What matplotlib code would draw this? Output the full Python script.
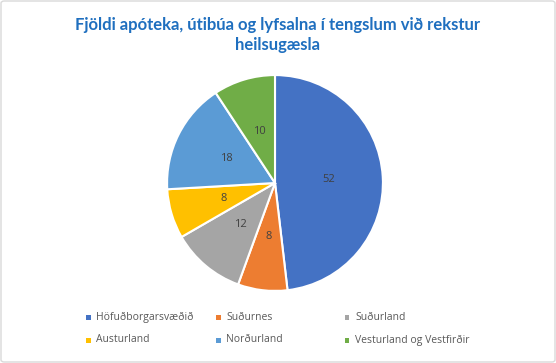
import matplotlib.pyplot as plt
from matplotlib.patches import FancyBboxPatch

categories = ["Höfuðborgarsvæðið", "Suðurnes", "Suðurland",
              "Austurland", "Norðurland", "Vesturland og Vestfirðir"]
values = [52, 8, 12, 8, 18, 10]
colors = ["#4472C4", "#ED7D31", "#A5A5A5", "#FFC000", "#5B9BD5", "#70AD47"]

W, H = 556, 363
fig = plt.figure(figsize=(W / 100, H / 100), dpi=100)

# light rounded border around the chart area
border = FancyBboxPatch((1 / W, 1 / H), 1 - 2 / W, 1 - 2 / H,
                        boxstyle="round,pad=0,rounding_size=0.006",
                        transform=fig.transFigure, facecolor="none",
                        edgecolor="#D9D9D9", linewidth=1, zorder=-1)
fig.patches.append(border)

fig.text(0.5, 1 - 35 / H, "Fjöldi apóteka, útibúa og lyfsalna í tengslum við rekstur\nheilsugæsla",
         ha="center", va="center", fontsize=12, fontweight="bold",
         color="#1F6FBF", family="Lato", linespacing=1.35)

cx, cy, r = 275, 183, 109
ax = fig.add_axes([(cx - r) / W, (H - cy - r) / H, 2 * r / W, 2 * r / H])
total = sum(values)
wedges, _, autotexts = ax.pie(
    values, colors=colors, startangle=90, counterclock=False,
    autopct=lambda p: f"{round(p * total / 100):d}", pctdistance=0.5,
    wedgeprops=dict(edgecolor="white", linewidth=1.5),
    textprops=dict(color="#404040", fontsize=8, family="Open Sans"))
ax.set_xlim(-1.01, 1.01)
ax.set_ylim(-1.01, 1.01)
ax.set_aspect("equal")

# legend in three columns
col_x = [88, 218, 347]
row_y = [317, 340]
for i, (name, c) in enumerate(zip(categories, colors)):
    x = col_x[i % 3]
    y = row_y[i // 3]
    fig.patches.append(plt.Rectangle(((x - 2.5) / W, (H - y - 2.5) / H), 5 / W, 5 / H,
                                     transform=fig.transFigure, facecolor=c,
                                     edgecolor="none"))
    fig.text((x + 8) / W, (H - y) / H, name, ha="left", va="center",
             fontsize=7.5, color="#595959", family="Open Sans")

fig.savefig("out.png", dpi=100)
